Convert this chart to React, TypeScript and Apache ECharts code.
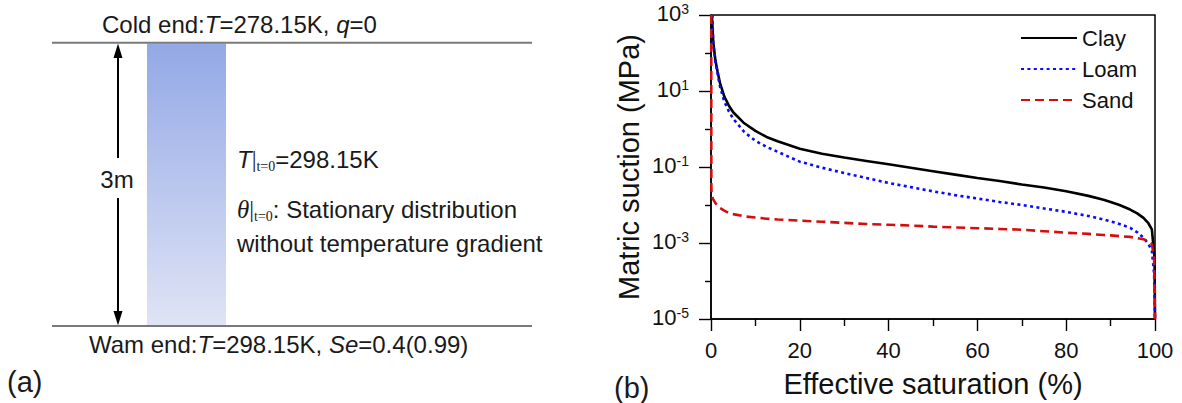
import React, { useEffect, useRef } from 'react';
import * as echarts from 'echarts';

const FONT = 'Liberation Sans, Arial, Helvetica, sans-serif';
const SERIF = 'Liberation Serif, Times New Roman, serif';

// Effective saturation (%) and log10 of matric suction (MPa) for each soil
const claySe = [0.2, 0.5, 1, 1.5, 2, 3, 4, 5, 7.5, 10, 12.5, 15, 20, 25, 30, 35, 40, 45, 50, 55, 60, 65, 70, 75, 80, 85, 88.4, 90, 92, 94.4, 96, 97.4, 98.5, 99.3, 99.6, 99.9, 100];
const clayLogSuction = [3.0, 2.3, 1.8, 1.5, 1.22, 0.85, 0.62, 0.44, 0.15, -0.05, -0.21, -0.32, -0.52, -0.65, -0.75, -0.84, -0.93, -1.02, -1.11, -1.2, -1.29, -1.37, -1.46, -1.54, -1.64, -1.76, -1.86, -1.92, -2.0, -2.12, -2.22, -2.34, -2.48, -2.64, -3.03, -3.4, -5];

const loamSe = [0.3, 0.5, 1, 1.5, 2, 3, 4, 5, 7.5, 10, 12.5, 15, 20, 25, 30, 35, 40, 45, 50, 55, 60, 65, 70, 75, 80, 85, 88.4, 90, 92, 94.4, 96, 97.4, 98.5, 99.3, 99.8, 100];
const loamLogSuction = [3.0, 2.26, 1.75, 1.45, 1.13, 0.72, 0.47, 0.27, -0.08, -0.31, -0.47, -0.6, -0.86, -1.02, -1.16, -1.29, -1.42, -1.53, -1.64, -1.74, -1.83, -1.92, -2.0, -2.09, -2.18, -2.29, -2.38, -2.43, -2.5, -2.6, -2.72, -2.86, -3.02, -3.21, -3.81, -5];

const sandSe = [0.05, 0.08, 0.15, 0.5, 1, 2, 3, 4, 5, 7.5, 10, 12.5, 15, 20, 25, 30, 35, 40, 45, 50, 55, 60, 65, 70, 75, 80, 85, 88.4, 90, 92, 94.4, 96, 97.4, 98.5, 99.3, 99.8, 100];
const sandLogSuction = [3.0, -1.5, -1.75, -1.85, -1.95, -2.08, -2.15, -2.21, -2.24, -2.3, -2.33, -2.36, -2.38, -2.41, -2.44, -2.47, -2.5, -2.52, -2.54, -2.57, -2.59, -2.61, -2.63, -2.65, -2.69, -2.73, -2.76, -2.79, -2.8, -2.82, -2.84, -2.87, -2.9, -2.95, -3.03, -3.38, -5];

const seriesNames = ['Clay', 'Loam', 'Sand'];
const seriesColors = ['#000000', '#0a0aff', '#d40d0d'];
const xTicks = { min: 0, max: 100, interval: 20 };
const yExponents = { min: -5, max: 3, interval: 2 };

const pairs = (xs: number[], ys: number[]) => xs.map((x, i) => [x, ys[i]]);

export default function App() {
  const ref = useRef<HTMLDivElement>(null);
  useEffect(() => {
    if (!ref.current) return;
    const chart = echarts.init(ref.current, undefined, { renderer: 'svg' });
    const txt = '#1a1a1a';
    const base = { fontSize: 24, fontFamily: FONT, lineHeight: 28, fill: txt, verticalAlign: 'middle' };
    const ital = { fontSize: 24, fontFamily: FONT, fontStyle: 'italic', lineHeight: 28, fill: txt, verticalAlign: 'middle' };
    const sub = { fontSize: 14, fontFamily: SERIF, lineHeight: 13, fill: txt, verticalAlign: 'bottom' };
    const bar = { fontSize: 24, fontFamily: SERIF, lineHeight: 28, fill: txt, verticalAlign: 'middle' };
    const thet = { fontSize: 25, fontFamily: SERIF, fontStyle: 'italic', lineHeight: 28, fill: txt, verticalAlign: 'middle' };
    const richAll = { n: base, i: ital, s: sub, b: bar, th: thet };
    const tickStyle = { color: '#000', width: 1.4 };

    chart.setOption({
      animation: false,
      grid: { left: 711, top: 15, width: 444, height: 307, show: true, borderColor: '#000', borderWidth: 1.5, backgroundColor: 'transparent' },
      legend: {
        orient: 'vertical', left: 1020, top: 27, padding: 0,
        itemWidth: 56, itemHeight: 20, itemGap: 9,
        itemStyle: { opacity: 0 },
        textStyle: { fontSize: 22, fontFamily: FONT, color: '#111', lineHeight: 20 },
        data: seriesNames,
      },
      xAxis: {
        type: 'value', min: xTicks.min, max: xTicks.max, interval: xTicks.interval,
        name: 'Effective saturation (%)', nameLocation: 'middle', nameGap: 50,
        nameTextStyle: { fontSize: 29, fontFamily: FONT, color: '#111' },
        axisLine: { onZero: false, lineStyle: { color: '#000', width: 1.5 } },
        axisTick: { show: true, inside: false, length: 12, lineStyle: tickStyle },
        minorTick: { show: true, splitNumber: 2, length: 7, lineStyle: tickStyle },
        axisLabel: { fontSize: 22, fontFamily: FONT, color: '#111', margin: 20 },
        splitLine: { show: false },
        minorSplitLine: { show: false },
      },
      yAxis: {
        type: 'value', min: yExponents.min, max: yExponents.max, interval: yExponents.interval,
        name: 'Matric suction (MPa)', nameLocation: 'middle', nameGap: 68,
        nameTextStyle: { fontSize: 29, fontFamily: FONT, color: '#111' },
        axisLine: { show: true, onZero: false, lineStyle: { color: '#000', width: 1.5 } },
        axisTick: { show: true, inside: false, length: 12, lineStyle: tickStyle },
        minorTick: { show: true, splitNumber: 2, length: 6, lineStyle: tickStyle },
        axisLabel: {
          margin: 22,
          formatter: (v: number) => `{b|10}{s|${v}}`,
          rich: {
            b: { fontSize: 22, fontFamily: FONT, color: '#111', lineHeight: 26, verticalAlign: 'top' },
            s: { fontSize: 14, fontFamily: FONT, color: '#111', lineHeight: 13, verticalAlign: 'top' },
          },
        },
        splitLine: { show: false },
        minorSplitLine: { show: false },
      },
      series: [
        { name: 'Clay', type: 'line', showSymbol: false, symbol: 'none', color: seriesColors[0], lineStyle: { color: seriesColors[0], width: 2.6, type: 'solid' }, data: pairs(claySe, clayLogSuction) },
        { name: 'Loam', type: 'line', showSymbol: false, symbol: 'none', color: seriesColors[1], lineStyle: { color: seriesColors[1], width: 2.6, type: [3, 3.4] }, data: pairs(loamSe, loamLogSuction) },
        { name: 'Sand', type: 'line', showSymbol: false, symbol: 'none', color: seriesColors[2], lineStyle: { color: seriesColors[2], width: 2.6, type: [9, 5] }, data: pairs(sandSe, sandLogSuction) },
      ],
      graphic: [
        { type: 'rect', shape: { x: 147, y: 43.5, width: 79, height: 282 }, style: { fill: new echarts.graphic.LinearGradient(0, 0, 0, 1, [{ offset: 0, color: '#93a8e6' }, { offset: 1, color: '#dfe4f5' }]) } },
        { type: 'line', shape: { x1: 52, y1: 42.7, x2: 532, y2: 42.7 }, style: { stroke: '#7a7a7a', lineWidth: 2 } },
        { type: 'line', shape: { x1: 52, y1: 326, x2: 532, y2: 326 }, style: { stroke: '#7a7a7a', lineWidth: 2 } },
        { type: 'line', shape: { x1: 118, y1: 52, x2: 118, y2: 158 }, style: { stroke: '#000', lineWidth: 2 } },
        { type: 'line', shape: { x1: 118, y1: 198, x2: 118, y2: 317 }, style: { stroke: '#000', lineWidth: 2 } },
        { type: 'polygon', shape: { points: [[118, 43.5], [113.5, 58], [122.5, 58]] }, style: { fill: '#000' } },
        { type: 'polygon', shape: { points: [[118, 325.5], [113.5, 311], [122.5, 311]] }, style: { fill: '#000' } },
        { type: 'text', x: 102, y: 24, style: { text: '{n|Cold end:}{i|T}{n|=278.15K, }{i|q}{n|=0}', rich: richAll, align: 'left', verticalAlign: 'middle' } },
        { type: 'text', x: 89, y: 344, style: { text: '{n|Wam end:}{i|T}{n|=298.15K, }{i|Se}{n|=0.4(0.99)}', rich: richAll, align: 'left', verticalAlign: 'middle' } },
        { type: 'text', x: 117, y: 179, style: { text: '3m', font: `24px ${FONT}`, fill: txt, align: 'center', verticalAlign: 'middle' } },
        { type: 'text', x: 237, y: 159, style: { text: '{i|T}{b||}{s|t=0}{n|=298.15K}', rich: richAll, align: 'left', verticalAlign: 'middle' } },
        { type: 'text', x: 237, y: 209, style: { text: '{th|θ}{b||}{s|t=0}{n|: Stationary distribution}', rich: richAll, align: 'left', verticalAlign: 'middle' } },
        { type: 'text', x: 237, y: 243, style: { text: 'without temperature gradient', font: `24px ${FONT}`, fill: txt, align: 'left', verticalAlign: 'middle' } },
        { type: 'text', x: 7, y: 382, style: { text: '(a)', font: `29px ${FONT}`, fill: txt, align: 'left', verticalAlign: 'middle' } },
        { type: 'text', x: 614, y: 388, style: { text: '(b)', font: `29px ${FONT}`, fill: txt, align: 'left', verticalAlign: 'middle' } },
      ],
    });
    return () => chart.dispose();
  }, []);
  return <div ref={ref} style={{ position: 'absolute', left: 0, top: 0, width: 1182, height: 403 }} />;
}
